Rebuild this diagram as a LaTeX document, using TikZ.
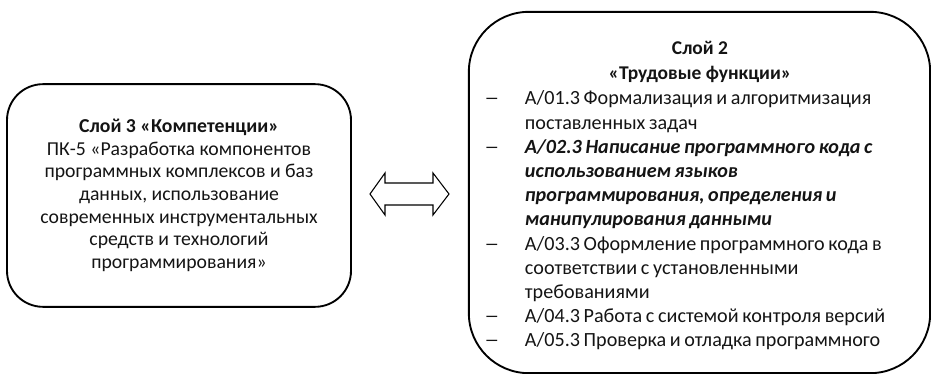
\documentclass[tikz,border=0pt]{standalone}
\usepackage{fontspec}
\setmainfont{Carlito}
\usepackage{tikz}
\usetikzlibrary{calc}
\definecolor{rahmen}{RGB}{0,0,0}
\definecolor{schrift}{RGB}{20,20,20}

\begin{document}
\begin{tikzpicture}[x=0.75pt, y=-0.75pt, schrift]

	\useasboundingbox (0,0) rectangle (931,374);

	% Slot 3
	\node[draw=rahmen, line width=1.4pt, rounded corners=27pt, minimum width=258pt, minimum height=167pt, align=center, font=\fontsize{14.8}{17}\selectfont] (L3) at (179,195.5) {\textbf{Слой 3 «Компетенции»}\\ ПК-5 «Разработка компонентов\\ программных комплексов и баз\\ данных, использование\\ современных инструментальных\\ средств и технологий\\ программирования»};

	% Slot 2
	\node[draw=rahmen, line width=1.4pt, rounded corners=45pt, minimum width=346pt, minimum height=271pt] (L2) at (699.5,192.5) {};

	\node[anchor=base, align=center, font=\fontsize{14.6}{18.8}\selectfont] (T2) at (700,80) {\textbf{Слой 2}\\ \textbf{«Трудовые функции»}};

	\node[anchor=base west, inner sep=0pt, font=\fontsize{15.1}{18.15}\selectfont] (F2) at (484,105) {%
		\spaceskip=0.18em plus 0.05em\relax
		\begin{tabular}[t]{@{}p{30.5pt}@{}l@{}}
		\scalebox{1.5}[1]{–} & A/01.3 Формализация и алгоритмизация\\
		  & поставленных задач\\
		\scalebox{1.5}[1]{–} & \textbf{\textit{A/02.3 Написание программного кода с}}\\
		  & \textbf{\textit{использованием языков}}\\
		  & \textbf{\textit{программирования, определения и}}\\
		  & \textbf{\textit{манипулирования данными}}\\
		\scalebox{1.5}[1]{–} & A/03.3 Оформление программного кода в\\
		  & соответствии с установленными\\
		  & требованиями\\
		\scalebox{1.5}[1]{–} & A/04.3 Работа с системой контроля версий\\
		\scalebox{1.5}[1]{–} & A/05.3 Проверка и отладка программного
		\end{tabular}};

	% Pfeil
	\draw[rahmen, line width=0.8pt, line join=miter] (370,194) -- (385,173) -- (385,183) -- (433,183) -- (433,173) -- (449,194) -- (433,215) -- (433,205) -- (385,205) -- (385,215) -- cycle;

\end{tikzpicture}
\end{document}
